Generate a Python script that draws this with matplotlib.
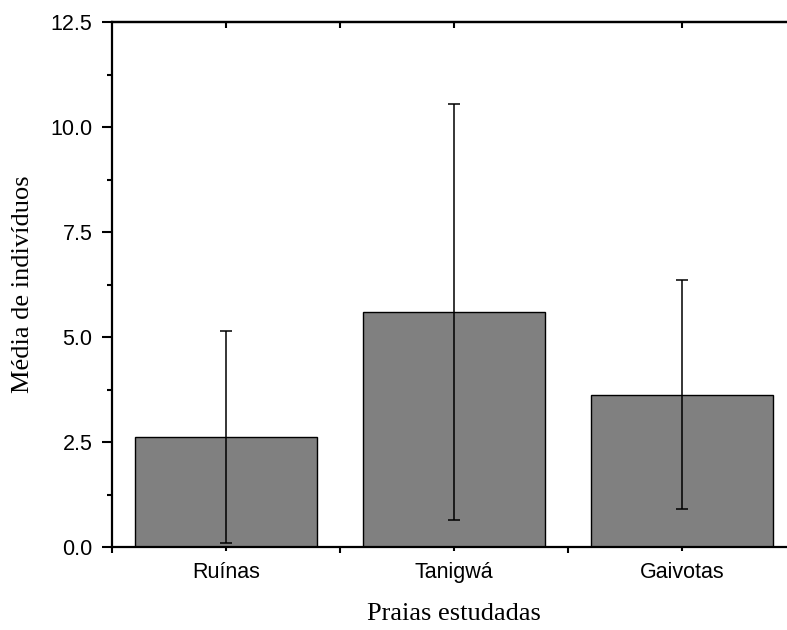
import matplotlib
matplotlib.use("Agg")
import matplotlib.pyplot as plt
from matplotlib.ticker import MultipleLocator, FormatStrFormatter, FixedLocator

# mean number of individuals per beach, with standard deviation
beaches = ["Ruínas", "Tanigwá", "Gaivotas"]
means = [2.62, 5.60, 3.63]
sd = [2.52, 4.95, 2.72]

fig = plt.figure(figsize=(7.87, 6.30), dpi=100)
ax = fig.add_axes([112 / 787, 83 / 630, 684 / 787, 525 / 630])

pos = list(range(1, len(beaches) + 1))
ax.bar(pos, means, width=0.8, color="#808080", edgecolor="black", linewidth=1.0, zorder=2)
ax.errorbar(pos, means, yerr=sd, fmt="none", ecolor="black", elinewidth=1.1,
            capsize=4, capthick=1.1, zorder=3)

ax.set_xlim(0.5, 3.5)
ax.set_ylim(0, 12.5)

for s in ax.spines.values():
    s.set_linewidth(1.6)

# y axis: outward ticks on the left
ax.yaxis.set_major_locator(MultipleLocator(2.5))
ax.yaxis.set_minor_locator(MultipleLocator(1.25))
ax.yaxis.set_major_formatter(FormatStrFormatter("%.1f"))
ax.tick_params(axis="y", which="major", direction="out", length=7, width=1.5,
               labelsize=15.5, pad=7, right=False)
ax.tick_params(axis="y", which="minor", direction="out", length=3.5, width=1.5, right=False)

# x axis: category ticks plus separators between bars
ax.set_xticks(pos)
ax.set_xticklabels(beaches)
ax.xaxis.set_minor_locator(FixedLocator([0.5, 1.5, 2.5, 3.5]))
ax.tick_params(axis="x", which="major", direction="out", length=3, width=1.5,
               labelsize=15.5, pad=8, top=False)
ax.tick_params(axis="x", which="minor", direction="out", length=4, width=1.5, top=False)

# inward ticks along the top edge
top = ax.secondary_xaxis("top")
top.set_xticks([1, 1.5, 2, 3])
top.tick_params(direction="in", length=4, width=1.5, labeltop=False)
top.spines["top"].set_linewidth(1.6)

for lab in ax.get_xticklabels() + ax.get_yticklabels():
    lab.set_family("Liberation Sans")

ax.set_xlabel("Praias estudadas", family="Liberation Serif", fontsize=19, labelpad=14)
ax.set_ylabel("Média de indivíduos", family="Liberation Serif", fontsize=19, labelpad=12)

fig.savefig("out.png", dpi=100)
